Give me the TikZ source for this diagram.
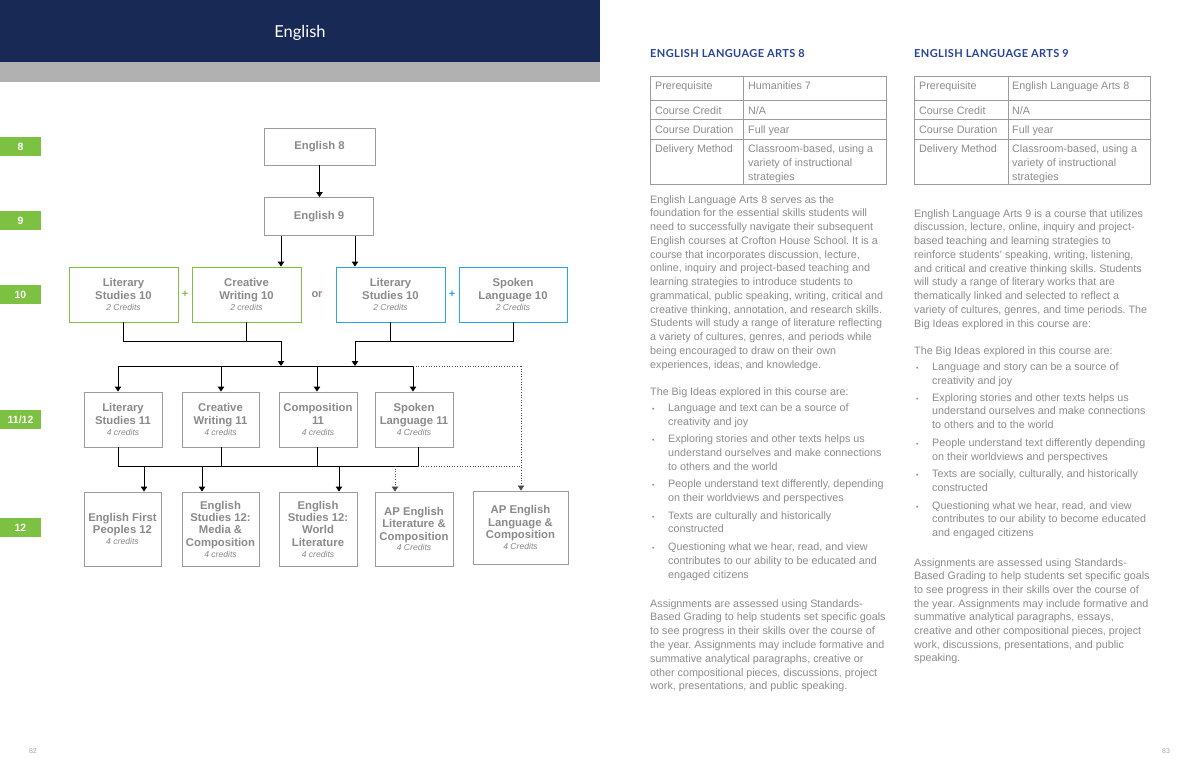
\documentclass[tikz,border=0pt]{standalone}
\usepackage{fontspec}
\setmainfont{Liberation Sans}
\newfontfamily\latofont{Lato}
\newfontfamily\headfont[LetterSpace=3.5]{Lato}
\usetikzlibrary{arrows.meta,calc}
\frenchspacing
\definecolor{navy}{RGB}{25,41,86}
\definecolor{band}{RGB}{177,177,177}
\definecolor{gradegreen}{RGB}{124,193,66}
\definecolor{boxblue}{RGB}{42,167,223}
\definecolor{boxgray}{RGB}{155,155,155}
\definecolor{boxtext}{RGB}{138,138,138}
\definecolor{bodygray}{RGB}{140,140,140}
\definecolor{headblue}{RGB}{39,67,153}
\newcommand\credit{\normalfont\itshape\fontsize{8.6}{10}\selectfont}
\newcommand\txtlines[5]{%
  \foreach \t [count=\i from 0] in {#5} {\node[body] (#1-\i) at (#2,{#3+\i*#4}) {\t};}}
\newcommand\bulitem[5]{%
  \node[bulletmark] (#1-b) at (652,#3) {•};
  \txtlines{#1}{#2}{#3}{#4}{#5}}
\newcommand\bulitemb[5]{%
  \node[bulletmark] (#1-b) at (916,#3) {•};
  \txtlines{#1}{#2}{#3}{#4}{#5}}
\begin{document}
\begin{tikzpicture}[x=1pt,y=-1pt,
  grade/.style={fill=gradegreen,text=white,minimum width=41,minimum height=19,inner sep=0,font=\bfseries\fontsize{10.5}{10.5}\selectfont},
  box/.style={draw=boxgray,line width=0.9pt,fill=white,text=boxtext,align=center,inner sep=0,font=\bfseries\fontsize{11.3}{12.4}\selectfont},
  gbox/.style={box,draw=gradegreen},
  bbox/.style={box,draw=boxblue},
  conn/.style={draw=black,line width=0.95pt},
  arr/.style={conn,-{Triangle[width=6.5pt,length=5pt]}},
  dotline/.style={draw=black!70,line width=0.8pt,dash pattern=on 1pt off 1.6pt},
  dotarr/.style={dotline,-{Triangle[width=6.5pt,length=5pt]}},
  body/.style={anchor=base west,inner sep=0,text=bodygray,font=\fontsize{10.75}{13}\selectfont},
  bulletmark/.style={anchor=base west,inner sep=0,text=bodygray,font=\fontsize{7}{8}\selectfont},
  head/.style={anchor=base west,inner sep=0,text=headblue,font=\headfont\bfseries\fontsize{11}{12}\selectfont},
  tab/.style={draw=boxgray,line width=0.8pt},
  plus/.style={inner sep=0,font=\bfseries\fontsize{11}{11}\selectfont},
  pnum/.style={inner sep=0,text=black!35,font=\fontsize{7}{8}\selectfont}]
\useasboundingbox (0,0) rectangle (1200,776);
\fill[white] (0,0) rectangle (1200,776);
% header
\fill[navy] (0,0) rectangle (600,62);
\fill[band] (0,62) rectangle (600,82);
\node[text=white,inner sep=0,font=\latofont\fontsize{16.5}{16.5}\selectfont] (title) at (300,32.5) {English};
% grade labels
\node[grade] (g8) at (20.5,146.5) {8};
\node[grade] (g9) at (20.5,220.5) {9};
\node[grade] (g10) at (20.5,294.5) {10};
\node[grade] (g11) at (20.5,419.5) {11/12};
\node[grade] (g12) at (20.5,527.5) {12};
% boxes
\node[box,minimum width=111,minimum height=37] (e8) at (319.5,146.5) {English 8};
\node[box,minimum width=109,minimum height=38] (e9) at (319,216.5) {English 9};
\node[gbox,minimum width=109,minimum height=55] (ls10g) at (123.5,294.5) {Literary\\Studies 10\\[-1.5pt]{\credit 2 Credits}};
\node[gbox,minimum width=109,minimum height=55] (cw10) at (246.5,294.5) {Creative\\Writing 10\\[-1.5pt]{\credit 2 credits}};
\node[bbox,minimum width=109,minimum height=55] (ls10b) at (390.5,294.5) {Literary\\Studies 10\\[-1.5pt]{\credit 2 Credits}};
\node[bbox,minimum width=108,minimum height=55] (sl10) at (513,294.5) {Spoken\\Language 10\\[-1.5pt]{\credit 2 Credits}};
\node[plus,text=gradegreen] (plusg) at (185,294) {+};
\node[plus,text=boxtext] (orlbl) at (317,294.5) {or};
\node[plus,text=boxblue] (plusb) at (452,294) {+};
\node[box,minimum width=78,minimum height=55] (ls11) at (123,419.5) {Literary\\Studies 11\\[-1.5pt]{\credit 4 credits}};
\node[box,minimum width=77,minimum height=55] (cw11) at (220.5,419.5) {Creative\\Writing 11\\[-1.5pt]{\credit 4 credits}};
\node[box,minimum width=78,minimum height=55] (comp11) at (318,419.5) {Composition\\11\\[-1.5pt]{\credit 4 credits}};
\node[box,minimum width=78,minimum height=55] (sl11) at (414,419.5) {Spoken\\Language 11\\[-1.5pt]{\credit 4 Credits}};
\node[box,minimum width=77,minimum height=74] (efp12) at (122.5,529) {English First\\Peoples 12\\[-1.5pt]{\credit 4 credits}};
\node[box,minimum width=77,minimum height=74] (esm12) at (220.5,529) {English\\Studies 12:\\Media \&\\Composition\\[-1.5pt]{\credit 4 credits}};
\node[box,minimum width=78,minimum height=74] (eswl12) at (318,529) {English\\Studies 12:\\World\\Literature\\[-1.5pt]{\credit 4 credits}};
\node[box,minimum width=78,minimum height=74] (apl12) at (414,529) {AP English\\Literature \&\\Composition\\[-1.5pt]{\credit 4 Credits}};
\node[box,minimum width=95,minimum height=73] (aplang) at (520.5,527.5) {AP English\\Language \&\\Composition\\[-1.5pt]{\credit 4 Credits}};
% connectors
\draw[arr] (e8.south) -- (e8.south |- e9.north);
\coordinate (ja) at (281,341);
\coordinate (jb) at (355,341);
\draw[arr] (e9.south -| ja) -- (ja |- cw10.north);
\draw[arr] (e9.south -| jb) -- (jb |- ls10b.north);
\draw[conn] (ls10g.south) |- (ja);
\draw[conn] (cw10.south) -- (cw10.south |- ja);
\draw[conn] (sl10.south) |- (jb);
\draw[conn] (ls10b.south) -- (ls10b.south |- jb);
\coordinate (t1) at (118,366);
\coordinate (t2) at (221,366);
\coordinate (t3) at (317,366);
\coordinate (t4) at (413,366);
\coordinate (dc) at (521,366);
\draw[arr] (ja) -- (ja |- t1);
\draw[arr] (jb) -- (jb |- t1);
\draw[conn] (t1) -- (t4);
\draw[arr] (t1) -- (t1 |- ls11.north);
\draw[arr] (t2) -- (t2 |- cw11.north);
\draw[arr] (t3) -- (t3 |- comp11.north);
\draw[arr] (t4) -- (t4 |- sl11.north);
\draw[dotline] (t4) -- (dc);
\draw[dotarr] (dc) -- (dc |- aplang.north);
\coordinate (s1) at (118,466);
\coordinate (s2) at (221,466);
\coordinate (s3) at (317,466);
\coordinate (s4) at (418,466);
\draw[conn] (s1 |- ls11.south) -- (s1);
\draw[conn] (s2 |- cw11.south) -- (s2);
\draw[conn] (s3 |- comp11.south) -- (s3);
\draw[conn] (s4 |- sl11.south) -- (s4);
\draw[conn] (s1) -- (s4);
\coordinate (u1) at (144,466);
\coordinate (u2) at (202,466);
\coordinate (u3) at (339,466);
\coordinate (u4) at (395,466);
\draw[arr] (u1) -- (u1 |- efp12.north);
\draw[arr] (u2) -- (u2 |- esm12.north);
\draw[arr] (u3) -- (u3 |- eswl12.north);
\draw[dotarr] (u4) -- (u4 |- apl12.north);
\draw[dotline] (s4) -- (dc |- s4);
% ---------- right page, column 1
\node[head] (h8) at (650,58) {ENGLISH LANGUAGE ARTS 8};
\draw[tab] (650,76) rectangle (886,184);
\draw[tab] (743,76) -- (743,184);
\draw[tab] (650,100) -- (886,100);
\draw[tab] (650,119) -- (886,119);
\draw[tab] (650,139) -- (886,139);
\node[body] (a1) at (655,89) {Prerequisite};
\node[body] (a2) at (748,89) {Humanities 7};
\node[body] (a3) at (655,114) {Course Credit};
\node[body] (a4) at (748,114) {N/A};
\node[body] (a5) at (655,133) {Course Duration};
\node[body] (a6) at (748,133) {Full year};
\node[body] (a7) at (655,152) {Delivery Method};
\txtlines{a8}{748}{152}{14}{{Classroom-based, using a},{variety of instructional},{strategies}}
\txtlines{p1}{650}{203}{13.75}{{English Language Arts 8 serves as the},{foundation for the essential skills students will},{need to successfully navigate their subsequent},{English courses at Crofton House School. It is a},{course that incorporates discussion, lecture,},{online, inquiry and project-based teaching and},{learning strategies to introduce students to},{grammatical, public speaking, writing, critical and},{creative thinking, annotation, and research skills.},{Students will study a range of literature reflecting},{a variety of cultures, genres, and periods while},{being encouraged to draw on their own},{experiences, ideas, and knowledge.}}
\node[body] (p2) at (650,395) {The Big Ideas explored in this course are:};
\bulitem{q1}{668}{411}{14}{{Language and text can be a source of},{creativity and joy}}
\bulitem{q2}{668}{442}{14}{{Exploring stories and other texts helps us},{understand ourselves and make connections},{to others and the world}}
\bulitem{q3}{668}{487}{14}{{People understand text differently, depending},{on their worldviews and perspectives}}
\bulitem{q4}{668}{519}{13.5}{{Texts are culturally and historically},{constructed}}
\bulitem{q5}{668}{550}{14}{{Questioning what we hear, read, and view},{contributes to our ability to be educated and},{engaged citizens}}
\txtlines{p3}{650}{607}{13.8}{{Assignments are assessed using Standards-},{Based Grading to help students set specific goals},{to see progress in their skills over the course of},{the year. Assignments may include formative and},{summative analytical paragraphs, creative or},{other compositional pieces, discussions, project},{work, presentations, and public speaking.}}
% ---------- right page, column 2
\node[head] (h9) at (914,58) {ENGLISH LANGUAGE ARTS 9};
\draw[tab] (914,76) rectangle (1150,184);
\draw[tab] (1008,76) -- (1008,184);
\draw[tab] (914,100) -- (1150,100);
\draw[tab] (914,119) -- (1150,119);
\draw[tab] (914,139) -- (1150,139);
\node[body] (c1) at (919,89) {Prerequisite};
\node[body] (c2) at (1012,89) {English Language Arts 8};
\node[body] (c3) at (919,114) {Course Credit};
\node[body] (c4) at (1012,114) {N/A};
\node[body] (c5) at (919,133) {Course Duration};
\node[body] (c6) at (1012,133) {Full year};
\node[body] (c7) at (919,152) {Delivery Method};
\txtlines{c8}{1012}{152}{14}{{Classroom-based, using a},{variety of instructional},{strategies}}
\txtlines{r1}{914}{217}{13.75}{{English Language Arts 9 is a course that utilizes},{discussion, lecture, online, inquiry and project-},{based teaching and learning strategies to},{reinforce students’ speaking, writing, listening,},{and critical and creative thinking skills. Students},{will study a range of literary works that are},{thematically linked and selected to reflect a},{variety of cultures, genres, and time periods. The},{Big Ideas explored in this course are:}}
\node[body] (r2) at (914,354) {The Big Ideas explored in this course are:};
\bulitemb{w1}{932}{370}{14}{{Language and story can be a source of},{creativity and joy}}
\bulitemb{w2}{932}{401}{13.7}{{Exploring stories and other texts helps us},{understand ourselves and make connections},{to others and to the world}}
\bulitemb{w3}{932}{446}{14}{{People understand text differently depending},{on their worldviews and perspectives}}
\bulitemb{w4}{932}{477}{14}{{Texts are socially, culturally, and historically},{constructed}}
\bulitemb{w5}{932}{509}{13.5}{{Questioning what we hear, read, and view},{contributes to our ability to become educated},{and engaged citizens}}
\txtlines{r3}{914}{566}{13.7}{{Assignments are assessed using Standards-},{Based Grading to help students set specific goals},{to see progress in their skills over the course of},{the year. Assignments may include formative and},{summative analytical paragraphs, essays,},{creative and other compositional pieces, project},{work, discussions, presentations, and public},{speaking.}}
% page numbers
\node[pnum] (pn82) at (33,751) {82};
\node[pnum] (pn83) at (1166,751) {83};
\end{tikzpicture}
\end{document}
